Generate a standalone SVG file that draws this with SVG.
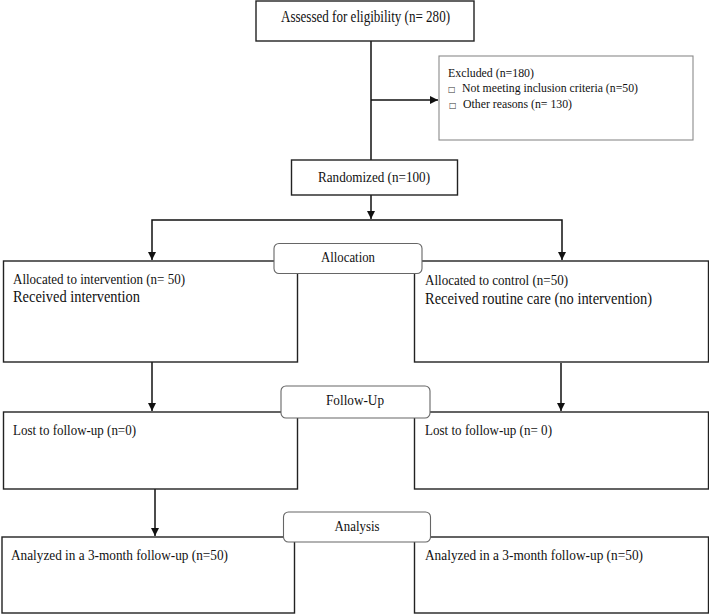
<svg xmlns="http://www.w3.org/2000/svg" width="709" height="614" viewBox="0 0 709 614">
<style>
  .box { fill: #fff; stroke: #222; stroke-width: 1.4; }
  .gbox { fill: #fff; stroke: #8a8a8a; stroke-width: 1.1; }
  .lbl { fill: #fff; stroke: #666; stroke-width: 1.1; }
  .t { font-family: "Liberation Serif", "Times New Roman", serif; fill: #111; }
  .c { stroke: #111; stroke-width: 1.5; fill: none; }
  .sq { font-family: "DejaVu Sans", sans-serif; fill: #333; font-size: 8px; }
</style>
<defs>
  <marker id="ah" viewBox="0 0 10 10" refX="10" refY="5" markerUnits="userSpaceOnUse" markerWidth="9" markerHeight="8" orient="auto">
    <path d="M0,0 L10,5 L0,10 z" fill="#111"/>
  </marker>
</defs>
<rect width="709" height="614" fill="#fff"/>

<g id="connectors">
  <path class="c" d="M371,41 V160"/>
  <path class="c" d="M371,100 H438" marker-end="url(#ah)"/>
  <path class="c" d="M371,195 V219" marker-end="url(#ah)"/>
  <path class="c" d="M371,220 H152 V260" marker-end="url(#ah)"/>
  <path class="c" d="M371,220 H562 V260" marker-end="url(#ah)"/>
  <path class="c" d="M152,362 V411" marker-end="url(#ah)"/>
  <path class="c" d="M561,363 V411" marker-end="url(#ah)"/>
  <path class="c" d="M155,489 V536" marker-end="url(#ah)"/>
</g>

<g id="assessed">
  <rect class="box" x="256" y="1" width="218" height="40"/>
  <text class="t" x="281" y="22" font-size="16" textLength="169" lengthAdjust="spacingAndGlyphs">Assessed for eligibility (n= 280)</text>
</g>

<g id="excluded">
  <rect class="gbox" x="439" y="56" width="254" height="84"/>
  <text class="t" x="448" y="77" font-size="13" textLength="86" lengthAdjust="spacingAndGlyphs">Excluded (n=180)</text>
  <text class="sq" x="448" y="92">□</text>
  <text class="t" x="462" y="92" font-size="13" textLength="176" lengthAdjust="spacingAndGlyphs">Not meeting inclusion criteria (n=50)</text>
  <text class="sq" x="449" y="108">□</text>
  <text class="t" x="463" y="107.5" font-size="13" textLength="109" lengthAdjust="spacingAndGlyphs">Other reasons (n= 130)</text>
</g>

<g id="randomized">
  <rect class="box" x="291.5" y="160" width="166" height="35"/>
  <text class="t" x="318" y="182" font-size="15.5" textLength="112" lengthAdjust="spacingAndGlyphs">Randomized (n=100)</text>
</g>

<g id="alloc-intervention">
  <rect class="box" x="3.5" y="261" width="294" height="101"/>
  <text class="t" x="13" y="284" font-size="14.5" textLength="172" lengthAdjust="spacingAndGlyphs">Allocated to intervention (n= 50)</text>
  <text class="t" x="13" y="302" font-size="16" textLength="127" lengthAdjust="spacingAndGlyphs">Received intervention</text>
</g>

<g id="alloc-control">
  <rect class="box" x="414.5" y="261" width="294" height="101"/>
  <text class="t" x="425" y="285" font-size="14.5" textLength="143" lengthAdjust="spacingAndGlyphs">Allocated to control (n=50)</text>
  <text class="t" x="425" y="303.5" font-size="16" textLength="227" lengthAdjust="spacingAndGlyphs">Received routine care (no intervention)</text>
</g>

<g id="allocation-label">
  <rect class="lbl" x="274" y="243.5" width="148" height="30" rx="5"/>
  <text class="t" x="348" y="262" font-size="15" text-anchor="middle" textLength="54" lengthAdjust="spacingAndGlyphs">Allocation</text>
</g>

<g id="lost-intervention">
  <rect class="box" x="3.5" y="412" width="294" height="77"/>
  <text class="t" x="13" y="435" font-size="15" textLength="123" lengthAdjust="spacingAndGlyphs">Lost to follow-up (n=0)</text>
</g>

<g id="lost-control">
  <rect class="box" x="414.5" y="412" width="294" height="77"/>
  <text class="t" x="425" y="435" font-size="15" textLength="127" lengthAdjust="spacingAndGlyphs">Lost to follow-up (n= 0)</text>
</g>

<g id="followup-label">
  <rect class="lbl" x="281" y="386" width="149" height="32" rx="5"/>
  <text class="t" x="355" y="405" font-size="15" text-anchor="middle" textLength="58" lengthAdjust="spacingAndGlyphs">Follow-Up</text>
</g>

<g id="analysis-intervention">
  <rect class="box" x="2" y="537" width="292.5" height="76"/>
  <text class="t" x="11" y="559.5" font-size="15" textLength="217" lengthAdjust="spacingAndGlyphs">Analyzed in a 3-month follow-up (n=50)</text>
</g>

<g id="analysis-control">
  <rect class="box" x="414.5" y="537" width="294" height="76"/>
  <text class="t" x="425" y="559.5" font-size="15" textLength="218" lengthAdjust="spacingAndGlyphs">Analyzed in a 3-month follow-up (n=50)</text>
</g>

<g id="analysis-label">
  <rect class="lbl" x="283.5" y="512" width="147" height="30" rx="5"/>
  <text class="t" x="357" y="531" font-size="15" text-anchor="middle" textLength="45" lengthAdjust="spacingAndGlyphs">Analysis</text>
</g>
</svg>
